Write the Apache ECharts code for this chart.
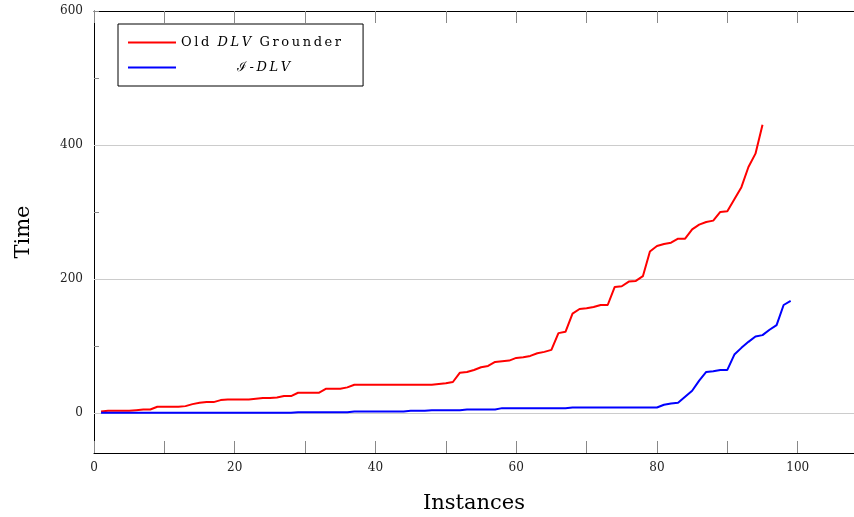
<!DOCTYPE html>
<html>
<head>
<meta charset="utf-8">
<script src="https://cdn.jsdelivr.net/npm/echarts@6/dist/echarts.min.js"></script>
<style>html,body{margin:0;padding:0;background:#fff}#c{width:854px;height:517px}</style>
</head>
<body>
<div id="c"></div>
<script>
// Old DLV Grounder times for instances 1..95
var oldDlvTimes = [2,3,3,3,3,4,5,5,9,9,9,9,10,13,15,16,16,19,20,20,
  20,20,21,22,22,23,25,25,30,30,30,30,36,36,36,38,42,42,42,42,
  42,42,42,42,42,42,42,42,43,44,46,60,61,64,68,70,76,77,78,82,
  83,85,89,91,94,119,121,148,155,156,158,161,161,188,189,196,197,204,241,249,
  252,254,260,260,274,281,285,287,300,301,319,337,367,387,430];
// I-DLV times for instances 1..99
var idlvTimes = [0,0,0,0,0,0,0,0,0,0,0,0,0,0,0,0,0,0,0,0,
  0,0,0,0,0,0,0,0,1,1,1,1,1,1,1,1,2,2,2,2,
  2,2,2,2,3,3,3,4,4,4,4,4,5,5,5,5,5,7,7,7,
  7,7,7,7,7,7,7,8,8,8,8,8,8,8,8,8,8,8,8,8,
  12,14,15,24,33,48,61,62,64,64,87,97,106,114,116,124,131,161,167];
var yLabelValues = [0,200,400,600];
var yTickValues = [0,100,200,300,400,500,600];
var gridValues = [0,200,400];

function pairs(arr){ return arr.map(function(v,i){ return [i+1, v]; }); }
var T = '\u2009';
function spaced(s){ return s.split('').join(T); }

var serif = '"DejaVu Serif", "Liberation Serif", serif';
var chart = echarts.init(document.getElementById('c'));
var xCommon = {
  type:'value', min:0, max:108, interval:20,
  axisLine:{show:true, onZero:false, lineStyle:{color:'#000', width:1}},
  axisTick:{show:true, inside:true, length:12, lineStyle:{color:'#888'}},
  minorTick:{show:true, splitNumber:2, length:12, lineStyle:{color:'#888'}},
  splitLine:{show:false}
};
chart.setOption({
  animation:false,
  backgroundColor:'#fff',
  grid:{left:94, right:0, top:11, bottom:64, containLabel:false, outerBoundsMode:'none'},
  legend:{
    left:118, top:24, orient:'vertical',
    borderColor:'#000', borderWidth:1, borderRadius:0,
    padding:[12,22,12,10], itemGap:12, itemWidth:48, itemHeight:14,
    data:[{name:'Old DLV Grounder', icon:'path://M0,6 L48,6 L48,8 L0,8 Z'},
          {name:'I-DLV', icon:'path://M0,6 L48,6 L48,8 L0,8 Z'}],
    formatter:function(n){
      if(n==='Old DLV Grounder') return '{r|' + spaced('Old') + '  }{i|' + spaced('DLV') + '}{r|  ' + spaced('Grounder') + '}';
      return '{p|}{c|ℐ}{r|' + T + '-' + T + '}{i|' + spaced('DLV') + '}';
    },
    textStyle:{
      fontFamily:serif, fontSize:13, color:'#000',
      rich:{
        r:{fontFamily:serif, fontSize:13, color:'#000'},
        i:{fontFamily:serif, fontSize:13, fontStyle:'italic', color:'#000'},
        c:{fontFamily:serif, fontSize:13, color:'#000'},
        p:{width:56}
      }
    }
  },
  xAxis:[
    Object.assign({}, xCommon, {
      position:'bottom',
      name:'Instances', nameLocation:'middle', nameGap:40,
      nameTextStyle:{fontFamily:serif, fontSize:21, color:'#000'},
      axisLabel:{fontFamily:serif, fontSize:12, color:'#222', margin:9, showMaxLabel:false}
    }),
    Object.assign({}, xCommon, {position:'top', axisLabel:{show:false}})
  ],
  yAxis:{
    type:'value', min:-60, max:600,
    axisLine:{show:true, onZero:false, lineStyle:{color:'#000', width:1}},
    axisTick:{show:true, inside:true, length:5, customValues:yTickValues, lineStyle:{color:'#888'}},
    axisLabel:{fontFamily:serif, fontSize:12, color:'#222', margin:11, customValues:yLabelValues},
    splitLine:{show:false},
    name:'Time', nameLocation:'middle', nameGap:60, nameRotate:90,
    nameTextStyle:{fontFamily:serif, fontSize:21, color:'#000'}
  },
  series:[
    {name:'Old DLV Grounder', type:'line', data:pairs(oldDlvTimes), showSymbol:false,
     lineStyle:{color:'#ff0000', width:2}, itemStyle:{color:'#ff0000'}, z:3,
     markLine:{silent:true, symbol:['none','none'], label:{show:false},
       lineStyle:{color:'#cccccc', width:1, type:'solid'},
       data:gridValues.map(function(v){return {yAxis:v};}), z:1}},
    {name:'I-DLV', type:'line', data:pairs(idlvTimes), showSymbol:false,
     lineStyle:{color:'#0000ff', width:2}, itemStyle:{color:'#0000ff'}, z:4}
  ]
});
</script>
</body>
</html>
